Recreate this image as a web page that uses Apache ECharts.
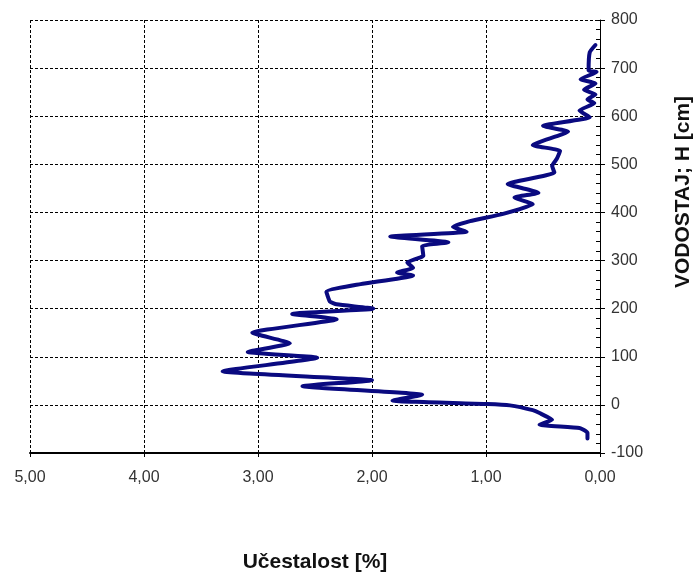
<!DOCTYPE html>
<html>
<head>
<meta charset="utf-8">
<script src="https://cdn.jsdelivr.net/npm/echarts@6/dist/echarts.min.js"></script>
<style>
  html, body { margin: 0; padding: 0; background: #fff; }
  #chart { width: 694px; height: 578px; }
</style>
</head>
<body>
<div id="chart"></div>
<script>
// Frequency of water levels (Učestalost, %) against the water level H (cm)
const freq = [
  0.04, 0.09, 0.10, 0.03, 0.17, 0.04, 0.14, 0.04, 0.11, 0.05,
  0.18, 0.09, 0.50, 0.28, 0.59, 0.35, 0.38, 0.42, 0.40, 0.81,
  0.54, 0.75, 0.59, 0.85, 1.14, 1.29, 1.17, 1.84, 1.33, 1.56,
  1.55, 1.69, 1.64, 1.78, 1.64, 2.10, 2.40, 2.37, 2.31, 1.99,
  2.70, 2.31, 3.05, 2.72, 3.09, 2.48, 3.31, 2.00, 2.61, 1.56,
  1.82, 0.99, 0.79, 0.59, 0.53, 0.42, 0.53, 0.18, 0.11, 0.11
];
const level = [
  748, 733, 695, 692, 677, 668, 655, 645, 635, 627,
  612, 598, 580, 568, 540, 528, 511, 497, 483, 459,
  441, 431, 417, 397, 382, 370, 360, 350, 338, 330,
  310, 296, 285, 275, 269, 251, 235, 215, 209, 200,
  189, 178, 150, 128, 110, 98, 70, 51, 39, 21,
  9, 2, -1, -11, -17, -31, -41, -48, -58, -70
];
const xTicks = { min: 0, max: 5, step: 1 };
const yTicks = { min: -100, max: 800, step: 100 };

const points = level.map((h, i) => [freq[i], h]);

const chart = echarts.init(document.getElementById('chart'), null, { renderer: 'canvas' });

const family = 'Liberation Sans, Arial, sans-serif';
const labelFont = { fontFamily: family, fontSize: 16, color: '#333' };
const gridLine = { show: true, lineStyle: { color: '#000', type: [3, 2], width: 1 } };

chart.setOption({
  animation: false,
  grid: { left: 30, right: 94, top: 20, bottom: 112, containLabel: false },
  xAxis: {
    type: 'value',
    inverse: true,
    min: xTicks.min, max: xTicks.max, interval: xTicks.step,
    name: 'Učestalost [%]',
    nameLocation: 'middle',
    nameGap: 99,
    nameTextStyle: { fontFamily: family, fontSize: 21, fontWeight: 'bold', color: '#111' },
    axisLine: { show: true, onZero: false, lineStyle: { color: '#000', width: 2 } },
    axisTick: { show: true, length: 4, lineStyle: { color: '#000' } },
    axisLabel: Object.assign({ margin: 17, formatter: v => v.toFixed(2).replace('.', ',') }, labelFont),
    splitLine: gridLine
  },
  yAxis: [{
    type: 'value',
    position: 'right',
    min: yTicks.min, max: yTicks.max, interval: yTicks.step,
    axisLine: { show: true, onZero: false, lineStyle: { color: '#000', width: 1 } },
    axisTick: { show: true, length: 5, lineStyle: { color: '#000' } },
    minorTick: { show: false },
    axisLabel: Object.assign({ margin: 11 }, labelFont),
    splitLine: gridLine
  }, {
    // inner half of the major ticks plus the minor ticks, drawn on the same scale
    type: 'value',
    position: 'right',
    min: yTicks.min, max: yTicks.max, interval: yTicks.step,
    axisLine: { show: false },
    axisTick: { show: true, inside: true, length: 5, lineStyle: { color: '#000' } },
    minorTick: { show: true, splitNumber: 5, length: 4, lineStyle: { color: '#000' } },
    axisLabel: { show: false },
    splitLine: { show: false }
  }],
  graphic: [{
    type: 'text',
    x: 683, y: 192,
    rotation: Math.PI / 2,
    style: {
      text: 'VODOSTAJ; H [cm]',
      fontFamily: family,
      fontSize: 21, fontWeight: 'bold', fill: '#111',
      align: 'center', verticalAlign: 'middle'
    }
  }],
  series: [{
    type: 'line',
    data: points,
    showSymbol: false,
    smooth: 0.15,
    lineStyle: { color: '#0a0a80', width: 4, cap: 'round', join: 'round' }
  }]
});
</script>
</body>
</html>
